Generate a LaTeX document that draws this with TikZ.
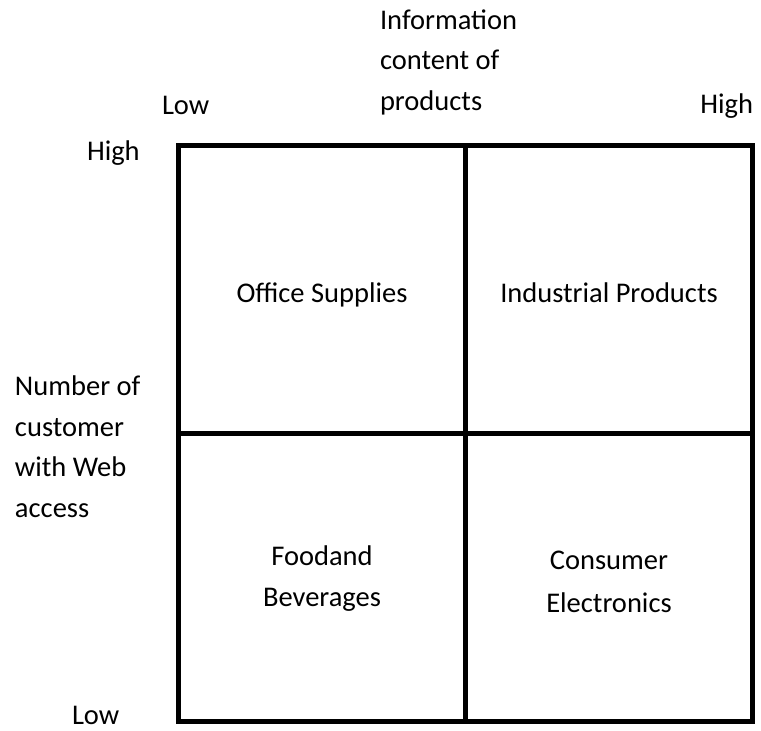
\documentclass[tikz,border=0pt]{standalone}
\usepackage{fontspec}
\setmainfont{Carlito}
\usepackage{tikz}
\usetikzlibrary{positioning}

\begin{document}
\begin{tikzpicture}[x=1pt,y=-1pt,
	txt/.style={inner sep=0pt,outer sep=0pt,font=\fontsize{28.5}{40.5}\selectfont},
	cell/.style={draw,line width=5pt,inner sep=0pt,outer sep=0pt,minimum width=287pt,minimum height=288pt}]
	\useasboundingbox (0,0) rectangle (761,731);

	% the four quadrants
	\node[cell,anchor=north west] (office) at (178.5,145) {};
	\node[cell,right=0pt of office] (industrial) {};
	\node[cell,below=0pt of office] (food) {};
	\node[cell,below=0pt of industrial] (consumer) {};

	\node[txt,anchor=base] (officetxt) at ([yshift=-13pt]office.center) {Office Supplies};
	\node[txt,anchor=base] (industrialtxt) at ([yshift=-13pt]industrial.center) {Industrial Products};
	\node[txt,anchor=base,align=center] (foodtxt) at ([yshift=-29pt]food.center) {Foodand\\Beverages};
	\node[txt,anchor=base,align=center] (consumertxt) at ([yshift=-35pt]consumer.center) {Consumer\\[2.5pt]Electronics};

	% axis labels
	\node[txt,anchor=base west,align=left] (info) at (380,110) {Information\\content of\\products};
	\node[txt,anchor=base west] (xlow) at (162,114) {Low};
	\node[txt,anchor=base east] (xhigh) at (753,113) {High};

	\node[txt,anchor=base west,align=left] (cust) at (15,517) {Number of\\customer\\with Web\\access};
	\node[txt,anchor=base west] (yhigh) at (87,160) {High};
	\node[txt,anchor=base west] (ylow) at (72,724) {Low};
\end{tikzpicture}
\end{document}
